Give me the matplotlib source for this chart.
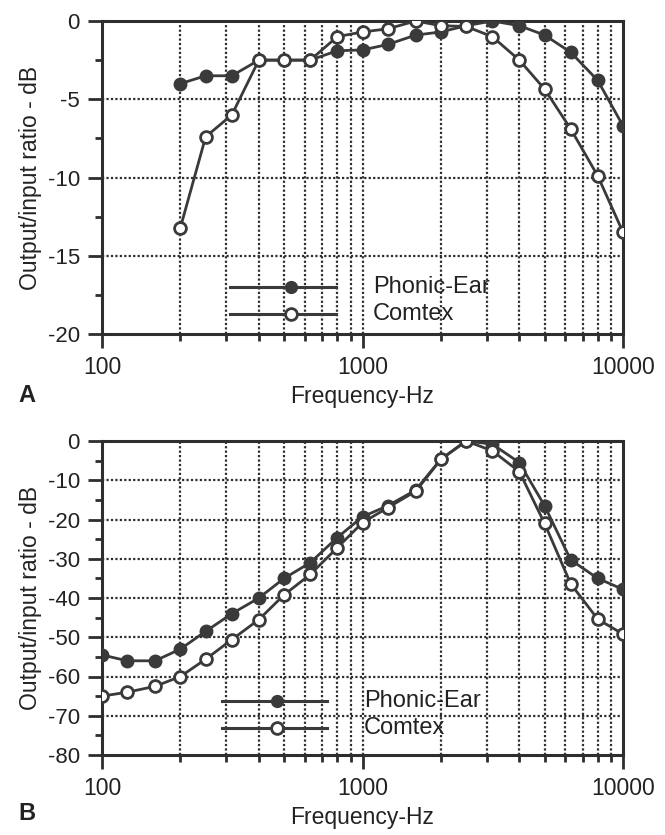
import matplotlib
matplotlib.use("Agg")
import matplotlib.pyplot as plt
from matplotlib.ticker import FixedLocator, NullFormatter, FixedFormatter

plt.rcParams['font.family'] = ['Liberation Sans', 'DejaVu Sans']

# ---------------- data ----------------
freq_a = [200, 250, 315, 400, 500, 630, 800, 1000, 1250, 1600, 2000, 2500,
          3150, 4000, 5000, 6300, 8000, 10000]
phonic_a = [-4.0, -3.5, -3.5, -2.5, -2.5, -2.5, -1.9, -1.85, -1.5, -0.9, -0.7,
            -0.3, 0.0, -0.3, -0.9, -2.0, -3.8, -6.7]
comtex_a = [-13.2, -7.4, -6.0, -2.5, -2.5, -2.5, -1.0, -0.7, -0.5, 0.0, -0.3,
            -0.35, -1.0, -2.5, -4.35, -6.9, -9.9, -13.5]

freq_b = [100, 125, 160, 200, 250, 315, 400, 500, 630, 800, 1000, 1250, 1600,
          2000, 2500, 3150, 4000, 5000, 6300, 8000, 10000]
phonic_b = [-54.5, -56.0, -56.0, -53.0, -48.5, -44.0, -40.0, -35.0, -31.0,
            -24.6, -19.3, -16.5, -12.5, -4.6, 0.0, -0.8, -5.5, -16.5, -30.3,
            -35.0, -37.8]
comtex_b = [-65.0, -64.0, -62.5, -60.0, -55.6, -50.6, -45.5, -39.2, -34.0,
            -27.2, -20.8, -17.0, -12.8, -4.7, 0.0, -2.5, -7.8, -21.0, -36.4,
            -45.4, -49.2]

series_names = ["Phonic-Ear", "Comtex"]
x_tick_labels = ["100", "1000", "10000"]
yticks_a = [0, -5, -10, -15, -20]
yticks_b = [0, -10, -20, -30, -40, -50, -60, -70, -80]

# ---------------- style ----------------
W, H = 665, 835
DARK = '#2e2e2e'
LINE = '#3a3a3a'
TXT = '#222222'
FS = 16

fig = plt.figure(figsize=(W / 100, H / 100), dpi=100)


def px_axes(left, top, right, bottom):
    return fig.add_axes([left / W, 1 - bottom / H, (right - left) / W, (bottom - top) / H])


def style_axes(ax, yticks, ymin, yminor):
    ax.set_xscale('log')
    ax.set_xlim(100, 10000)
    ax.set_ylim(ymin, 0)
    ax.xaxis.set_major_locator(FixedLocator([100, 1000, 10000]))
    ax.xaxis.set_major_formatter(FixedFormatter(x_tick_labels))
    minors = [m * d for d in (100, 1000) for m in range(2, 10)]
    ax.xaxis.set_minor_locator(FixedLocator(minors))
    ax.xaxis.set_minor_formatter(NullFormatter())
    ax.yaxis.set_major_locator(FixedLocator(yticks))
    ax.yaxis.set_major_formatter(FixedFormatter([f"{t:d}" for t in yticks]))
    ax.yaxis.set_minor_locator(FixedLocator(yminor))
    ax.tick_params(axis='both', which='major', direction='out', length=10,
                   width=2, color=DARK, labelsize=FS, labelcolor=TXT)
    ax.tick_params(axis='x', which='major', labelsize=16.5, pad=6)
    ax.tick_params(axis='both', which='minor', direction='out', length=5,
                   width=2, color=DARK)
    ax.tick_params(axis='y', which='major', pad=6)
    for s in ax.spines.values():
        s.set_linewidth(2.2)
        s.set_color(DARK)
    # grid: vertical at all inner decade subdivisions, horizontal at majors
    for f in minors + [1000]:
        ax.axvline(f, color=DARK, lw=1.6, ls=(0, (1, 1)), zorder=1)
    for t in yticks[1:-1]:
        ax.axhline(t, color=DARK, lw=1.6, ls=(0, (1, 1)), zorder=1)
    ax.set_xlabel("Frequency-Hz", fontsize=16.5, labelpad=4, color=TXT)
    ax.set_ylabel("Output/input ratio - dB", fontsize=16.5, labelpad=4, color=TXT)


def draw_series(ax, fx, p, c):
    ax.plot(fx, p, color=LINE, lw=2.0, marker='o', ms=8.5, mfc=LINE, mec=LINE,
            mew=1.5, zorder=3)
    ax.plot(fx, c, color=LINE, lw=2.0, marker='o', ms=8.5, mfc='white', mec=LINE,
            mew=2.0, zorder=4)


def draw_legend(ax, x0, x1, xm, xt, y1, y2):
    ax.plot([x0, x1], [y1, y1], color=LINE, lw=2.2, zorder=3)
    ax.plot([xm], [y1], marker='o', ms=8.5, mfc=LINE, mec=LINE, zorder=4)
    ax.plot([x0, x1], [y2, y2], color=LINE, lw=2.2, zorder=3)
    ax.plot([xm], [y2], marker='o', ms=8.5, mfc='white', mec=LINE, mew=2.0, zorder=4)
    ax.text(xt, y1, series_names[0], fontsize=17, va='center', ha='left',
            color=TXT, zorder=5)
    ax.text(xt, y2, series_names[1], fontsize=17, va='center', ha='left',
            color=TXT, zorder=5)


# ---------------- panel A ----------------
axA = px_axes(102, 21, 623, 334)
style_axes(axA, yticks_a, -20, [-2.5, -7.5, -12.5, -17.5])
draw_series(axA, freq_a, phonic_a, comtex_a)
draw_legend(axA, 310, 790, 530, 1095, -17.0, -18.7)
fig.text(18 / W, 1 - 395 / H, "A", fontsize=17, fontweight='bold', va='center', color=TXT)

# ---------------- panel B ----------------
axB = px_axes(102, 441, 623, 755)
style_axes(axB, yticks_b, -80, [-5, -15, -25, -35, -45, -55, -65, -75])
draw_series(axB, freq_b, phonic_b, comtex_b)
draw_legend(axB, 290, 730, 470, 1015, -66.2, -73.0)
fig.text(18 / W, 1 - 813 / H, "B", fontsize=17, fontweight='bold', va='center', color=TXT)

fig.savefig("out.png", dpi=100)
